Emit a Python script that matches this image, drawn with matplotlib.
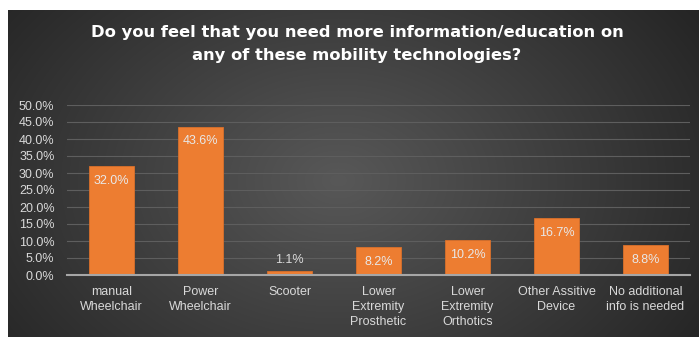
import numpy as np
import matplotlib.pyplot as plt
from matplotlib.ticker import FuncFormatter

# data
categories = ["manual\nWheelchair", "Power\nWheelchair", "Scooter",
              "Lower\nExtremity\nProsthetic", "Lower\nExtremity\nOrthotics",
              "Other Assitive\nDevice", "No additional\ninfo is needed"]
values = [32.0, 43.6, 1.1, 8.2, 10.2, 16.7, 8.8]
title = "Do you feel that you need more information/education on\nany of these mobility technologies?"

W, H = 699, 337
fig = plt.figure(figsize=(W / 100, H / 100), dpi=100)
fig.patch.set_facecolor("white")

# dark panel with radial gradient
bg = fig.add_axes([8 / W, 0, 1 - 8 / W, 1 - 10 / H])
bg.set_axis_off()
yy, xx = np.mgrid[0:327, 0:691]
r = np.sqrt(((xx - 330) / 420.0) ** 2 + ((yy - 170) / 300.0) ** 2)
r = np.clip(r, 0, 1)
inner, outer = 0x58 / 255, 0x26 / 255
shade = inner + (outer - inner) * r
img = np.dstack([shade, shade, shade])
bg.imshow(img, aspect="auto", extent=[0, 1, 0, 1], origin="upper")
bg.set_xlim(0, 1)
bg.set_ylim(0, 1)

fig.text(357 / W, 1 - 44 / H, title, ha="center", va="center",
         color="white", fontsize=11.8, fontweight="bold",
         linespacing=1.6, family="DejaVu Sans")

ax = fig.add_axes([67 / W, 1 - 275 / H, 623 / W, 170 / H])
ax.set_facecolor("none")
x = np.arange(len(categories))
bars = ax.bar(x, values, width=0.5, color="#ED7D31", edgecolor="#D9702B",
              linewidth=0.6, zorder=3)
ax.set_xlim(-0.5, len(categories) - 0.5)
ax.set_ylim(0, 50)
ax.set_yticks(np.arange(0, 50.1, 5))
ax.yaxis.set_major_formatter(FuncFormatter(lambda v, p: f"{v:.1f}%"))
ax.grid(axis="y", color="#5e5e5e", linewidth=0.8, zorder=0)
ax.set_xticks(x)
ax.set_xticklabels(categories, color="#d9d9d9", fontsize=9,
                   linespacing=1.3, family="Liberation Sans")
for lbl in ax.get_yticklabels():
    lbl.set_color("#d9d9d9")
    lbl.set_fontsize(9)
    lbl.set_family("Liberation Sans")
ax.tick_params(axis="both", length=0)
ax.tick_params(axis="y", pad=9)
ax.tick_params(axis="x", pad=8)
for s in ["top", "right", "left"]:
    ax.spines[s].set_visible(False)
ax.spines["bottom"].set_color("#a6a6a6")
ax.spines["bottom"].set_linewidth(1.5)
ax.spines["bottom"].set_zorder(4)

for xi, v in zip(x, values):
    if v > 5:
        ax.annotate(f"{v:.1f}%", (xi, v), xytext=(0, -10.5), textcoords="offset points",
                    ha="center", va="center", color="#e8e8e8", fontsize=9,
                    family="Liberation Sans", zorder=5)
    else:
        ax.annotate(f"{v:.1f}%", (xi, v), xytext=(0, 8), textcoords="offset points",
                    ha="center", va="center", color="#d9d9d9", fontsize=9,
                    family="Liberation Sans", zorder=5)

plt.savefig("out.png", dpi=100)
